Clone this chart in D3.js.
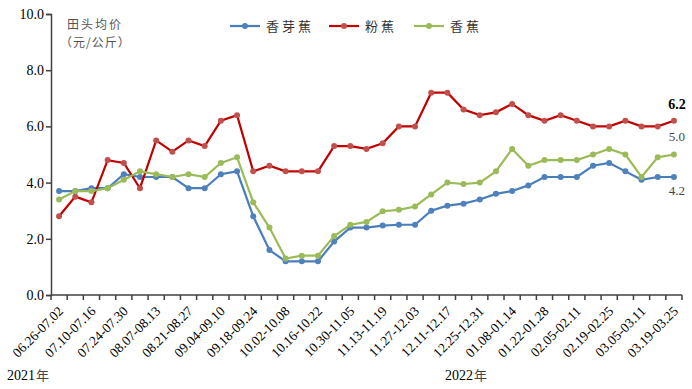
<!DOCTYPE html>
<html>
<head>
<meta charset="utf-8" />
<title>香蕉田头均价</title>
<style>
body { margin: 0; background: #fff; }
#graph { width: 692px; height: 389px; }
.axis text { font-family: "Liberation Serif", "DejaVu Serif", serif; fill: #000; }
.axis path, .axis line { stroke: #404040; stroke-width: 1.5; }
.cjk { font-family: "Noto Sans CJK SC", sans-serif; }
</style>
</head>
<body>
<div id="graph"></div>
<script src="https://cdnjs.cloudflare.com/ajax/libs/d3/7.8.5/d3.min.js"></script>
<script>
!(function(){
    "use strict"

    // 周次（两周标注一次）
    var weeks = [
        "06.26-07.02","07.03-07.09","07.10-07.16","07.17-07.23","07.24-07.30","07.31-08.06",
        "08.07-08.13","08.14-08.20","08.21-08.27","08.28-09.03","09.04-09.10","09.11-09.17",
        "09.18-09.24","09.25-10.01","10.02-10.08","10.09-10.15","10.16-10.22","10.23-10.29",
        "10.30-11.05","11.06-11.12","11.13-11.19","11.20-11.26","11.27-12.03","12.04-12.10",
        "12.11-12.17","12.18-12.24","12.25-12.31","01.01-01.07","01.08-01.14","01.15-01.21",
        "01.22-01.28","01.29-02.04","02.05-02.11","02.12-02.18","02.19-02.25","02.26-03.04",
        "03.05-03.11","03.12-03.18","03.19-03.25"
    ]
    var xiangya = [3.7,3.7,3.8,3.8,4.3,4.2,4.2,4.2,3.8,3.8,4.3,4.4,2.8,1.6,1.2,1.2,1.2,1.9,2.4,2.4,
                   2.47,2.5,2.5,3.0,3.18,3.25,3.4,3.6,3.7,3.9,4.2,4.2,4.2,4.6,4.7,4.4,4.1,4.2,4.2]
    var fenjiao = [2.8,3.5,3.3,4.8,4.7,3.8,5.5,5.1,5.5,5.3,6.2,6.4,4.4,4.6,4.4,4.4,4.4,5.3,5.3,5.2,
                   5.4,6.0,6.0,7.2,7.2,6.6,6.4,6.5,6.8,6.4,6.2,6.4,6.2,6.0,6.0,6.2,6.0,6.0,6.2]
    var xiangjiao = [3.4,3.7,3.7,3.8,4.1,4.4,4.3,4.2,4.3,4.2,4.7,4.9,3.3,2.4,1.3,1.4,1.4,2.1,2.5,2.6,
                     2.98,3.03,3.15,3.58,4.0,3.95,4.0,4.4,5.2,4.6,4.8,4.8,4.8,5.0,5.2,5.0,4.2,4.9,5.0]
    var yTicks = [0,2,4,6,8,10]
    var seriesNames = ["香芽蕉","粉蕉","香蕉"]
    var lineColors = ["#4a7ebb","#c00000","#9bbb59"]
    var dotColors = ["#4f81bd","#c0504d","#9bbb59"]
    var endLabels = ["4.2","6.2","5.0"]

    var series = [xiangya, fenjiao, xiangjiao].map(function(v, i){
        return { name: seriesNames[i], values: v, line: lineColors[i], dot: dotColors[i], label: endLabels[i] }
    })

    var width = 692, height = 389
    var margin = {top:14, left:51, bottom:94, right:10}
    var chartWidth = width - margin.left - margin.right
    var chartHeight = height - margin.top - margin.bottom

    var svg = d3.select("#graph").append("svg").attr("width", width).attr("height", height)
    var chartLayer = svg.append("g").attr("transform", "translate("+[margin.left, margin.top]+")")

    var xScale = d3.scaleBand().domain(weeks).range([0, chartWidth]).padding(0)
    var yScale = d3.scaleLinear().domain([0, 10]).range([chartHeight, 0])
    var cx = function(i){ return xScale(weeks[i]) + xScale.bandwidth()/2 }

    // y 轴
    var yAxis = d3.axisLeft(yScale).tickValues(yTicks).tickSize(5).tickFormat(d3.format(".1f"))
    var yG = chartLayer.append("g").attr("class", "axis y").call(yAxis)
    yG.selectAll("text").attr("font-size", 14).attr("x", -7)

    // x 轴：刻度在分组边界
    var xG = chartLayer.append("g").attr("class", "axis x")
        .attr("transform", "translate(0,"+chartHeight+")")
    xG.append("line").attr("x1", 0).attr("x2", chartWidth).attr("y1", 0).attr("y2", 0)
    xG.selectAll(".tk").data(weeks.concat([null])).enter().append("line").attr("class", "tk")
        .attr("x1", function(d, i){ return i * xScale.bandwidth() })
        .attr("x2", function(d, i){ return i * xScale.bandwidth() })
        .attr("y1", 0).attr("y2", 5)
    xG.selectAll(".lbl").data(weeks.filter(function(d, i){ return i % 2 === 0 })).enter()
        .append("text").attr("class", "lbl")
        .attr("font-size", 13.5)
        .attr("text-anchor", "end")
        .attr("transform", function(d){
            return "translate("+[xScale(d) + xScale.bandwidth()/2 + 5, 17]+") rotate(-45)"
        })
        .text(function(d){ return d })

    // 折线
    var line = d3.line()
        .x(function(d, i){ return cx(i) })
        .y(function(d){ return yScale(d) })

    var sG = chartLayer.selectAll(".series").data(series).enter().append("g").attr("class", "series")
    sG.append("path")
        .attr("d", function(d){ return line(d.values) })
        .attr("fill", "none")
        .attr("stroke", function(d){ return d.line })
        .attr("stroke-width", 2.2)
    sG.each(function(s){
        d3.select(this).selectAll("circle").data(s.values).enter().append("circle")
            .attr("cx", function(d, i){ return cx(i) })
            .attr("cy", function(d){ return yScale(d) })
            .attr("r", 3)
            .attr("fill", s.dot)
    })

    // 末端标注
    var last = weeks.length - 1
    var offs = { "香芽蕉": 18, "粉蕉": -12, "香蕉": -14 }
    sG.append("text")
        .attr("x", cx(last) + 3)
        .attr("y", function(d){ return yScale(d.values[last]) + offs[d.name] })
        .attr("text-anchor", "middle")
        .attr("font-family", "Liberation Serif, serif")
        .attr("font-size", function(d){ return d.name === "粉蕉" ? 14 : 13 })
        .attr("font-weight", function(d){ return d.name === "粉蕉" ? "bold" : "normal" })
        .attr("fill", function(d){ return d.name === "粉蕉" ? "#000" : "#444" })
        .text(function(d){ return d.label })

    // y 轴标题
    svg.append("text").attr("class", "cjk").attr("x", 67).attr("y", 29)
        .attr("font-size", 12).attr("fill", "#555").attr("letter-spacing", 2).text("田头均价")
    svg.append("text").attr("class", "cjk").attr("x", 60).attr("y", 47)
        .attr("font-size", 12).attr("fill", "#555").attr("letter-spacing", 1).text("（元/公斤）")

    // 图例
    var legX = [230, 329, 414]
    var leg = svg.selectAll(".leg").data(series).enter().append("g").attr("class", "leg")
        .attr("transform", function(d, i){ return "translate("+[legX[i], 26]+")" })
    leg.append("line").attr("x1", 0).attr("x2", 30).attr("y1", 0).attr("y2", 0)
        .attr("stroke", function(d){ return d.line }).attr("stroke-width", 2.2)
    leg.append("circle").attr("cx", 15).attr("cy", 0).attr("r", 3).attr("fill", function(d){ return d.dot })
    leg.append("text").attr("class", "cjk").attr("x", 36).attr("y", 5)
        .attr("font-size", 13).attr("fill", "#333").attr("letter-spacing", 3)
        .text(function(d){ return d.name })

    // 年份
    svg.append("text").attr("x", 7).attr("y", 380).attr("font-size", 14)
        .attr("font-family", "Liberation Serif, serif").text("2021")
    svg.append("text").attr("class", "cjk").attr("x", 36).attr("y", 380).attr("font-size", 13)
        .attr("fill", "#444").text("年")
    svg.append("text").attr("x", 445).attr("y", 380).attr("font-size", 14)
        .attr("font-family", "Liberation Serif, serif").text("2022")
    svg.append("text").attr("class", "cjk").attr("x", 474).attr("y", 380).attr("font-size", 13)
        .attr("fill", "#444").text("年")
}());
</script>
</body>
</html>
